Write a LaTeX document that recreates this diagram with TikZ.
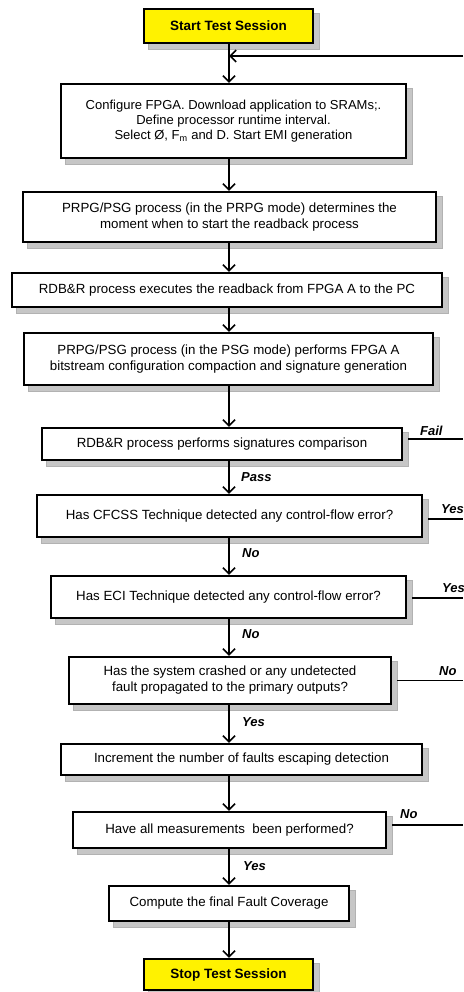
\documentclass[tikz,border=0pt]{standalone}
\usepackage{fontspec}
\setmainfont{Liberation Sans}
\usetikzlibrary{arrows.meta}
\pgfdeclarelayer{background}
\pgfsetlayers{background,main}
\begin{document}
\begin{tikzpicture}[x=1pt,y=-1pt,
  box/.style={draw=black,line width=2.4pt,fill=white,align=center,inner sep=0pt,
    font=\fontsize{13.3}{16}\selectfont},
  term/.style={box,fill=yellow,font=\fontsize{13.5}{16}\selectfont\bfseries},
  shadowc/.style={fill=gray!45,draw=gray!60,line width=0.4pt},
  conn/.style={line width=1.6pt,-{Straight Barb[length=6pt,width=12pt]}},
  branch/.style={line width=1.4pt},
  lbl/.style={font=\fontsize{13}{15}\selectfont\bfseries\itshape,inner sep=0pt,anchor=west}]
\useasboundingbox (0,0) rectangle (463,992);

\coordinate (ax) at (229,0);
\coordinate (re) at (463,0);
\coordinate (fb) at (463,56);

\node[term,minimum width=169pt,minimum height=34pt] (start) at (228.5,26) {Start Test Session};
\node[box,minimum width=345pt,minimum height=74pt,font=\fontsize{13}{15}\selectfont] (b1) at (233.5,121)
  {Configure FPGA. Download application to SRAMs;.\\ Define processor runtime interval.\\ Select Ø, F\textsubscript{m} and D. Start EMI generation};
\node[box,minimum width=413pt,minimum height=50pt] (b2) at (229.5,217)
  {PRPG/PSG process (in the PRPG mode) determines the\\ moment when to start the readback process};
\node[box,minimum width=430pt,minimum height=34pt] (b3) at (227,290)
  {RDB\&R process executes the readback from FPGA A to the PC};
\node[box,minimum width=409pt,minimum height=52pt] (b4) at (228.5,359)
  {PRPG/PSG process (in the PSG mode) performs FPGA A\\ bitstream configuration compaction and signature generation};
\node[box,minimum width=360pt,minimum height=32pt] (b5) at (222,444)
  {RDB\&R process performs signatures comparison};
\node[box,minimum width=385pt,minimum height=42pt] (b6) at (229.5,516)
  {Has CFCSS Technique detected any control-flow error?};
\node[box,minimum width=355pt,minimum height=42pt] (b7) at (228.5,597)
  {Has ECI Technique detected any control-flow error?};
\node[box,minimum width=322pt,minimum height=47pt] (b8) at (230,680.5)
  {Has the system crashed or any undetected\\ fault propagated to the primary outputs?};
\node[box,minimum width=361pt,minimum height=31pt] (b9) at (241.5,759.5)
  {Increment the number of faults escaping detection};
\node[box,minimum width=313pt,minimum height=36pt] (b10) at (229.5,830)
  {Have all measurements\ \ been performed?};
\node[box,minimum width=240pt,minimum height=35pt] (b11) at (229,903.5)
  {Compute the final Fault Coverage};
\node[term,minimum width=169pt,minimum height=31pt] (stop) at (228.5,974.5) {Stop Test Session};

% shadows
\begin{pgfonlayer}{background}
\foreach \n in {start,b1,b2,b3,b4,b5,b6,b7,b8,b9,b10,b11,stop}{
  \fill[shadowc] ([shift={(5pt,-5pt)}]\n.south west) rectangle ([shift={(5pt,-5pt)}]\n.north east);
}
\end{pgfonlayer}

% main flow
\draw[conn] (start.south -| ax) -- (b1.north -| ax);
\draw[conn] (b1.south -| ax) -- (b2.north -| ax);
\draw[conn] (b2.south -| ax) -- (b3.north -| ax);
\draw[conn] (b3.south -| ax) -- (b4.north -| ax);
\draw[conn] (b4.south -| ax) -- (b5.north -| ax);
\draw[conn] (b5.south -| ax) -- (b6.north -| ax);
\draw[conn] (b6.south -| ax) -- (b7.north -| ax);
\draw[conn] (b7.south -| ax) -- (b8.north -| ax);
\draw[conn] (b8.south -| ax) -- (b9.north -| ax);
\draw[conn] (b9.south -| ax) -- (b10.north -| ax);
\draw[conn] (b10.south -| ax) -- (b11.north -| ax);
\draw[conn] (b11.south -| ax) -- (stop.north -| ax);

% feedback
\draw[conn] (fb) -- (fb -| ax);

% branches to the right
\coordinate (e5) at ([shift={(5pt,5pt)}]b5.east);
\coordinate (e6) at ([shift={(5pt,-3pt)}]b6.east);
\coordinate (e7) at ([shift={(5pt,-1pt)}]b7.east);
\coordinate (e8) at ([shift={(5pt,0pt)}]b8.east);
\coordinate (e10) at ([shift={(5pt,5pt)}]b10.east);
\draw[branch] (e5) -- (e5 -| re);
\draw[branch] (e6) -- (e6 -| re);
\draw[branch] (e7) -- (e7 -| re);
\draw[branch] (e8) -- (e8 -| re);
\draw[branch] (e10) -- (e10 -| re);

% labels
\node[lbl] (lfail) at (420,431) {Fail};
\node[lbl] (lyes6) at (441,509) {Yes};
\node[lbl] (lyes7) at (442,588) {Yes};
\node[lbl] (lno8) at (439,671) {No};
\node[lbl] (lno10) at (400,814) {No};
\node[lbl] (lpass) at (241,477) {Pass};
\node[lbl] (lno6) at (242,553) {No};
\node[lbl] (lno7) at (242,634) {No};
\node[lbl] (lyes8) at (242,722) {Yes};
\node[lbl] (lyes10) at (243,866) {Yes};
\end{tikzpicture}
\end{document}
